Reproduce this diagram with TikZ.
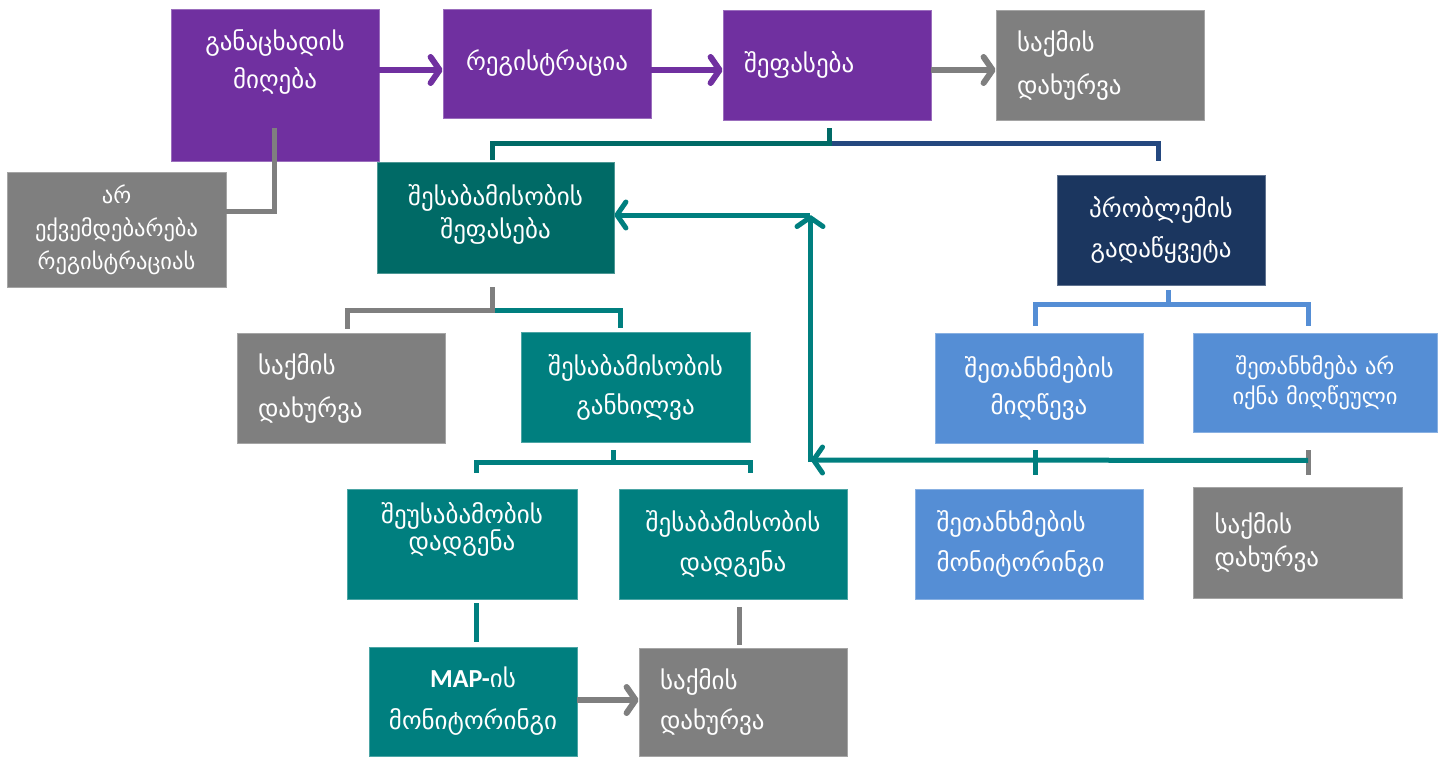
\documentclass[tikz,border=0pt]{standalone}
\usepackage{fontspec}
\newfontfamily\gf{DejaVu Sans}
\newfontfamily\lat{Carlito}
\usetikzlibrary{arrows.meta,calc}
\definecolor{cpurple}{HTML}{7030A0}
\definecolor{cgray}{HTML}{7F7F7F}
\definecolor{cdteal}{HTML}{006A66}
\definecolor{cteal}{HTML}{007F7F}
\definecolor{cnavy}{HTML}{1B365F}
\definecolor{cnavyline}{HTML}{24487F}
\definecolor{cblue}{HTML}{558ED5}
\begin{document}
\begin{tikzpicture}[x=1pt,y=-1pt,
  box/.style={fill=#1, draw=#1!70!white, line width=0.8pt, text=white, inner sep=0pt, align=center},
  ls/.style={font=\gf\fontsize{25pt}{#1pt}\selectfont},
  lsm/.style={font=\gf\fontsize{22.5pt}{#1pt}\selectfont},
  lbox/.style={align=left, inner xsep=21pt, text width=#1},
  conn/.style={line width=5pt},
  arr/.style={line width=6pt, -{Straight Barb[length=9pt,width=26pt,round]}},
  arr2/.style={line width=5pt, -{Straight Barb[length=9pt,width=26pt,round]}}]
\useasboundingbox (0,0) rectangle (1445,756);

% boxes
\node[box=cpurple, ls=38, minimum width=208pt, minimum height=152pt] (b1) at (275,85) {განაცხადის\\მიღება\\\rule{0pt}{44pt}};
\node[box=cpurple, ls=38, minimum width=208pt, minimum height=109pt] (b2) at (547,63.5) {რეგისტრაცია};
\node[box=cpurple, ls=38, lbox=166pt, minimum width=208pt, minimum height=110pt] (b3) at (827,65) {შეფასება};
\node[box=cgray, ls=43, lbox=166pt, minimum width=208pt, minimum height=110pt] (b4) at (1100,65) {საქმის\\დახურვა};
\node[box=cgray, lsm=33, minimum width=219pt, minimum height=115pt] (b5) at (116.5,229.5) {არ\\ექვემდებარება\\რეგისტრაციას};
\node[box=cdteal, ls=33, minimum width=237pt, minimum height=111pt] (b6) at (495.5,217.5) {შესაბამისობის\\შეფასება\\[-21pt]\mbox{}};
\node[box=cnavy, ls=40, minimum width=208pt, minimum height=110pt] (b7) at (1161,230) {პრობლემის\\გადაწყვეტა};
\node[box=cgray, ls=43, lbox=166pt, minimum width=208pt, minimum height=110pt] (b8) at (341,388) {საქმის\\დახურვა};
\node[box=cteal, ls=39, minimum width=229pt, minimum height=110pt] (b9) at (635.5,387) {შესაბამისობის\\განხილვა};
\node[box=cblue, ls=37, minimum width=208pt, minimum height=110pt] (b10) at (1039,388) {შეთანხმების\\მიღწევა};
\node[box=cblue, lsm=30, minimum width=244pt, minimum height=99pt] (b11) at (1315,382.5) {შეთანხმება არ\\იქნა მიღწეული};
\node[box=cteal, ls=27, minimum width=230pt, minimum height=110pt] (b12) at (462,544) {შეუსაბამობის\\დადგენა\\\rule{0pt}{28pt}};
\node[box=cteal, ls=40, minimum width=228pt, minimum height=110pt] (b13) at (733,544) {შესაბამისობის\\დადგენა};
\node[box=cblue, ls=40, lbox=185pt, minimum width=228pt, minimum height=110pt] (b14) at (1029,544) {შეთანხმების\\მონიტორინგი};
\node[box=cgray, ls=33, lbox=166pt, minimum width=209pt, minimum height=111pt] (b15) at (1297.5,542.5) {საქმის\\დახურვა};
\node[box=cteal, ls=42, minimum width=208pt, minimum height=109pt] (b16) at (473,701.5) {{\lat\bfseries\fontsize{26pt}{26pt}\selectfont MAP-}ის\\მონიტორინგი};
\node[box=cgray, ls=40, lbox=166pt, minimum width=208pt, minimum height=108pt] (b17) at (743,702) {საქმის\\დახურვა};

% top arrows
\draw[arr, cpurple] ($(b1.east)+(0,-15)$) -- ($(b2.west)+(0,6.5)$);
\draw[arr, cpurple] ($(b2.east)+(0,6.5)$) -- ($(b3.west)+(0,5)$);
\draw[arr, cgray] ($(b3.east)+(0,5)$) -- ($(b4.west)+(0,5)$);

% b1 -> b5
\draw[conn, cgray] ($(b1.south)+(-1,-33)$) |- ($(b5.east)+(0,-18)$);

% b3 split
\coordinate (s3) at ($(b3.south)+(2,23)$);
\draw[conn, cnavyline] (s3) -| ($(b7.north)+(-3,-14)$);
\draw[conn, cdteal] ($(b3.south)+(2,8)$) -- (s3) -| ($(b6.north)+(-3,-2)$);

% b6 split
\coordinate (s6) at ($(b6.south)+(-3.5,37)$);
\draw[conn, cteal] (s6) -| ($(b9.north)+(-15.5,-4)$);
\draw[conn, cgray] ($(b6.south)+(-3.5,14)$) -- (s6) -| ($(b8.north)+(6,-4)$);

% b9 split
\coordinate (s9) at ($(b9.south)+(-22.5,20)$);
\draw[conn, cteal] ($(b9.south)+(-22.5,8)$) -- (s9);
\draw[conn, cteal] ($(b12.north)+(14,-16)$) |- (s9) -| ($(b13.north)+(17,-16)$);

% lower links
\draw[conn, cteal] ($(b12.south)+(14,4)$) -- ($(b16.north)+(3,-5)$);
\draw[conn, cgray] ($(b13.south)+(6,8)$) -- ($(b17.north)+(-4,-3)$);
\draw[arr, cgray] ($(b16.east)+(0,-1.5)$) -- ($(b17.west)+(0,-2)$);

% b7 split
\coordinate (s7) at ($(b7.south)+(7,19)$);
\draw[conn, cblue] ($(b7.south)+(7,5)$) -- (s7);
\draw[conn, cblue] ($(b10.north)+(-4,-7)$) |- (s7) -| ($(b11.north)+(-7,-7)$);

% ticks
\draw[conn, cteal] ($(b10.south)+(-4,7)$) -- ($(b14.north)+(6,-14)$);
\draw[conn, cgray] ($(b11.south)+(-7,18)$) -- ($(b15.north)+(10.5,-12)$);

% feedback
\coordinate (f1) at ($(b11.south)+(-7,28)$);
\coordinate (fl) at (811,460);
\coordinate (fv) at (810,462);
\coordinate (ft) at (810,215);
\draw[arr2, cteal] (f1) -- (fl);
\draw[arr2, cteal] (fv) -- (ft);
\draw[arr2, cteal] (ft) -- (b6.east |- ft);
\end{tikzpicture}
\end{document}
